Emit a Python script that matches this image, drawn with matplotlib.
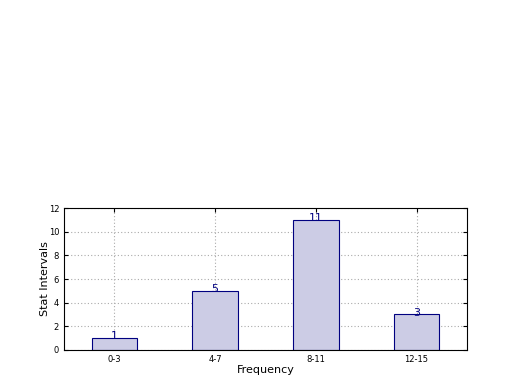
import matplotlib
matplotlib.use('Agg')
import matplotlib.pyplot as plt
import numpy as np

# data
intervals = ['0-3', '4-7', '8-11', '12-15']
counts = [1, 5, 11, 3]

fig = plt.figure(figsize=(5.2, 3.9), dpi=100)
ax = fig.add_axes([0.123, 0.1026, 0.775, 0.364])

x = np.arange(len(intervals))
bars = ax.bar(x, counts, width=0.45, color='#ccccE5', edgecolor='navy', linewidth=0.8, zorder=2)

# value labels on top of each bar
for xi, c in zip(x, counts):
    ax.text(xi, c - 0.1, str(c), ha='center', va='baseline', color='navy', fontsize=8, zorder=3)

ax.set_xlim(-0.5, len(intervals) - 0.5)
ax.set_ylim(0, 12)
ax.set_yticks(range(0, 13, 2))
ax.set_xticks(x)
ax.set_xticklabels(intervals)
ax.tick_params(direction='in', labelsize=6, length=3, top=True, right=True)
ax.grid(True, color='#aaaaaa', linestyle=(0, (1, 2)), linewidth=0.8, zorder=0)
ax.set_axisbelow(True)

ax.set_xlabel('Frequency', fontsize=8, labelpad=1)
ax.set_ylabel('Stat Intervals', fontsize=8, labelpad=-1)

fig.savefig('out.png', dpi=100)
